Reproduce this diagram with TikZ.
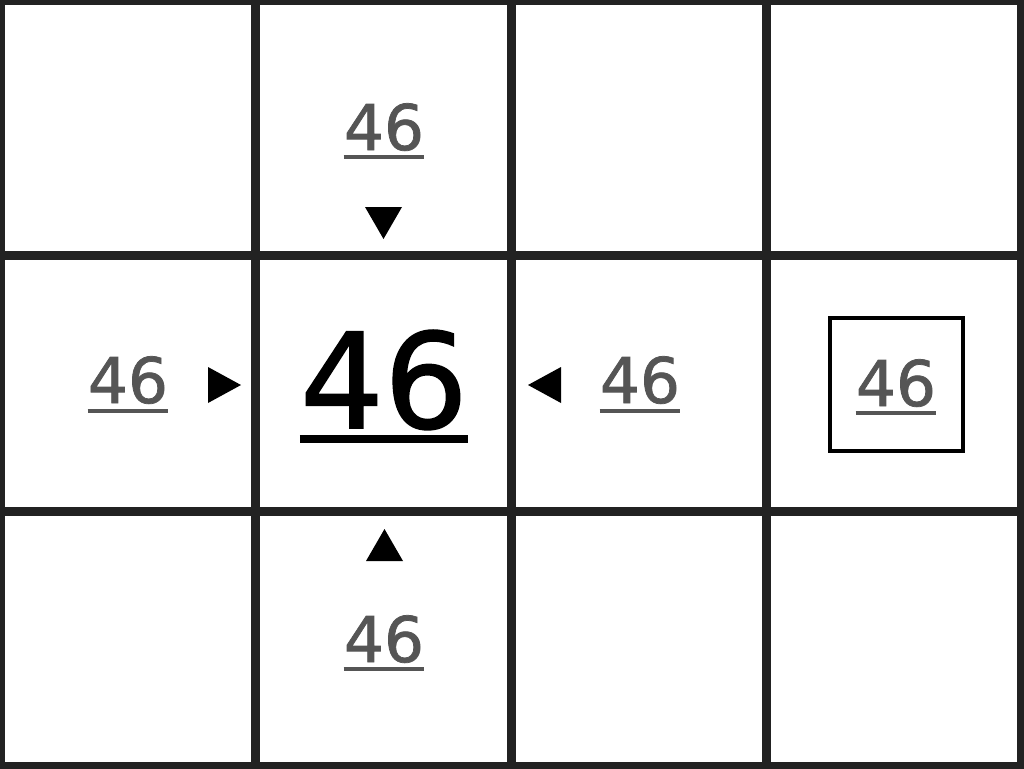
\documentclass[tikz,border=0pt]{standalone}
\usepackage{fontspec}
\setmainfont{DejaVu Sans}
\newfontfamily\numfont{DejaVu Sans}[FakeBold=1.2]
\definecolor{gridc}{HTML}{222222}
\definecolor{numc}{HTML}{555555}
\begin{document}
\begin{tikzpicture}[x=1pt,y=-1pt,
  gridline/.style={draw=gridc,line width=9pt},
  smallnum/.style={inner sep=0pt,anchor=base,text=numc,font=\numfont\fontsize{63}{63}\selectfont},
  bignum/.style={inner sep=0pt,anchor=base,text=black,font=\numfont\fontsize{132}{132}\selectfont},
  smallul/.style={draw=numc,line width=4pt},
  bigul/.style={draw=black,line width=8pt},
  tri/.style={fill=black}]
\useasboundingbox (0,0) rectangle (1024,768);
\fill[white] (0,0) rectangle (1024,768);
% grid
\foreach \x in {0.5,255.5,511,766.5,1021.5} \draw[gridline] (\x,0) -- (\x,768);
\foreach \y in {0.5,255.5,511,766} \draw[gridline] (0,\y) -- (1024,\y);
% center
\node[bignum] (c) at (384,428) {46};
\draw[bigul] ([yshift=-11pt]c.base west) -- ([yshift=-11pt]c.base east);
% top
\node[smallnum] (t) at (384,150) {46};
\draw[smallul] ([yshift=-7pt]t.base west) -- ([yshift=-7pt]t.base east);
\fill[tri] (365,207) -- (402,207) -- (383.5,239) -- cycle;
% bottom
\node[smallnum] (b) at (384,662) {46};
\draw[smallul] ([yshift=-7pt]b.base west) -- ([yshift=-7pt]b.base east);
\fill[tri] (366,561) -- (403,561) -- (384.5,529) -- cycle;
% left
\node[smallnum] (l) at (128,403) {46};
\draw[smallul] ([yshift=-8pt]l.base west) -- ([yshift=-8pt]l.base east);
\fill[tri] (208,367) -- (208,403) -- (241,385) -- cycle;
% right
\node[smallnum] (r) at (640,403) {46};
\draw[smallul] ([yshift=-8pt]r.base west) -- ([yshift=-8pt]r.base east);
\fill[tri] (561,367) -- (561,403) -- (528,385) -- cycle;
% boxed
\node[smallnum] (x) at (896,406) {46};
\draw[smallul] ([yshift=-7pt]x.base west) -- ([yshift=-7pt]x.base east);
\draw[black,line width=4pt] (829.5,317.5) rectangle (962.5,450.5);
\end{tikzpicture}
\end{document}
